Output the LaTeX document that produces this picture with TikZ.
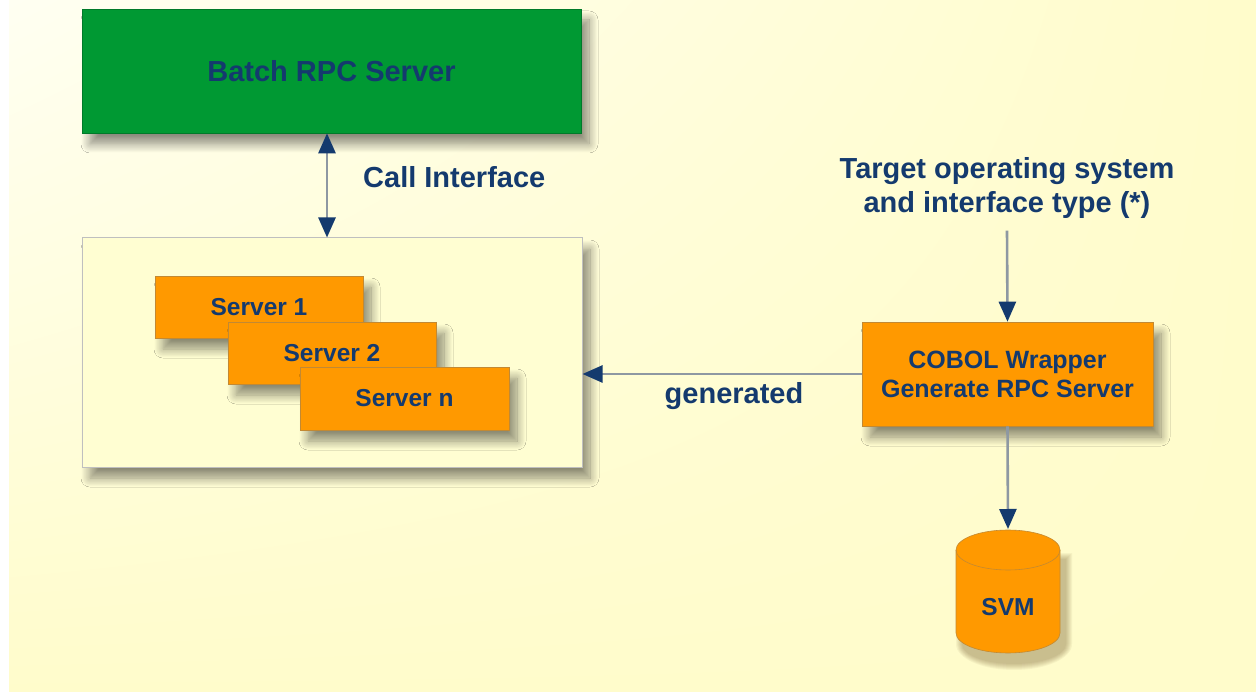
\documentclass[tikz,border=0pt]{standalone}
\usepackage{fontspec}
\setmainfont{Liberation Sans}
\usetikzlibrary{arrows.meta,shadows.blur,shadings}
\definecolor{bgyel}{HTML}{FFFCCB}
\definecolor{bglt}{HTML}{FFFFF2}
\definecolor{boxyel}{HTML}{FFFED2}
\definecolor{grn}{HTML}{009933}
\definecolor{orng}{HTML}{FF9900}
\definecolor{navy}{HTML}{143A6E}
\definecolor{lgray}{HTML}{8E98A2}
\definecolor{shdcol}{HTML}{5A3A10}
\tikzset{
  x=1pt, y=-1pt,
  shd/.style={blur shadow={shadow xshift=8pt, shadow yshift=-11pt, shadow blur radius=9pt, shadow opacity=45, shadow blur steps=12}},
  txt/.style={text=navy, font=\bfseries\fontsize{29}{34}\selectfont},
  stxt/.style={text=navy, font=\bfseries\fontsize{24.5}{29}\selectfont},
  greenbox/.style={rectangle, fill=grn, draw=grn!80!black, line width=0.6pt, inner sep=0, shd, txt},
  outerbox/.style={rectangle, fill=boxyel, draw=black!25, line width=1pt, inner sep=0, shd},
  orangebox/.style={rectangle, fill=orng, draw=orng!70!black!80, line width=0.6pt, inner sep=0, shd, stxt},
  arr/.style={draw=lgray, line width=2.6pt, -{Triangle[length=20pt,width=17pt,color=navy]}},
  darr/.style={draw=lgray, line width=2.6pt, {Triangle[length=20pt,width=17pt,color=navy]}-{Triangle[length=20pt,width=17pt,color=navy]}},
}
\begin{document}
\begin{tikzpicture}
\useasboundingbox (0,0) rectangle (1256,692);
\fill[white] (0,0) rectangle (1256,692);
\shade[upper left=bglt, upper right=bgyel, lower left=bgyel, lower right=bgyel] (9,0) rectangle (1256,692);

\node[greenbox, minimum width=499pt, minimum height=124pt] (batch) at (331.5,71) {Batch RPC Server};
\node[outerbox, minimum width=500pt, minimum height=229pt] (outer) at (332,352.5) {};
\node[orangebox, minimum width=208pt, minimum height=62pt] (s1) at (259,307) {Server 1};
\node[orangebox, minimum width=208pt, minimum height=62pt] (s2) at (332,353) {Server 2};
\node[orangebox, minimum width=209pt, minimum height=63pt] (sn) at (404.5,398.5) {Server n};

\node[orangebox, minimum width=291pt, minimum height=104pt, align=center, font=\bfseries\fontsize{25}{29}\selectfont] (cobol) at (1007.5,374) {COBOL Wrapper\\Generate RPC Server};

\node[txt, align=center, inner sep=0pt, outer sep=12pt] (target) at (1007,188) {Target operating system\\and interface type (*)};

\node[txt, anchor=west, inner sep=0] (callif) at (363,177) {Call Interface};

% SVM cylinder
\coordinate (svmc) at (1008,591);
\foreach \k in {0,...,6} {
  \fill[shdcol, opacity=0.05] (962-\k,559-\k) -- (962-\k,644) arc[start angle=180, end angle=0, x radius=52+\k, y radius=20+\k] -- (1066+\k,559-\k) -- cycle;
}
\filldraw[fill=orng, draw=orng!70!black!80, line width=0.6pt] (956,550) -- (956,633) arc[start angle=180, end angle=0, x radius=52, y radius=20] -- (1060,550) arc[start angle=0, end angle=-180, x radius=52, y radius=20] -- cycle;
\draw[orng!70!black!80, line width=0.6pt] (956,550) arc[start angle=180, end angle=0, x radius=52, y radius=20];
\node[stxt, inner sep=0] (svm) at (1008,607) {SVM};
\coordinate (svmtop) at (1008,529);

\draw[darr] (batch.south -| 327,0) -- (outer.north -| 327,0);
\draw[arr] (target.south) -- (cobol.north);
\draw[arr] (cobol.west) -- (outer.east |- cobol.west);
\node[txt, inner sep=0] (gen) at (734,396) {generated};
\draw[arr] (cobol.south) -- (svmtop);
\end{tikzpicture}
\end{document}
